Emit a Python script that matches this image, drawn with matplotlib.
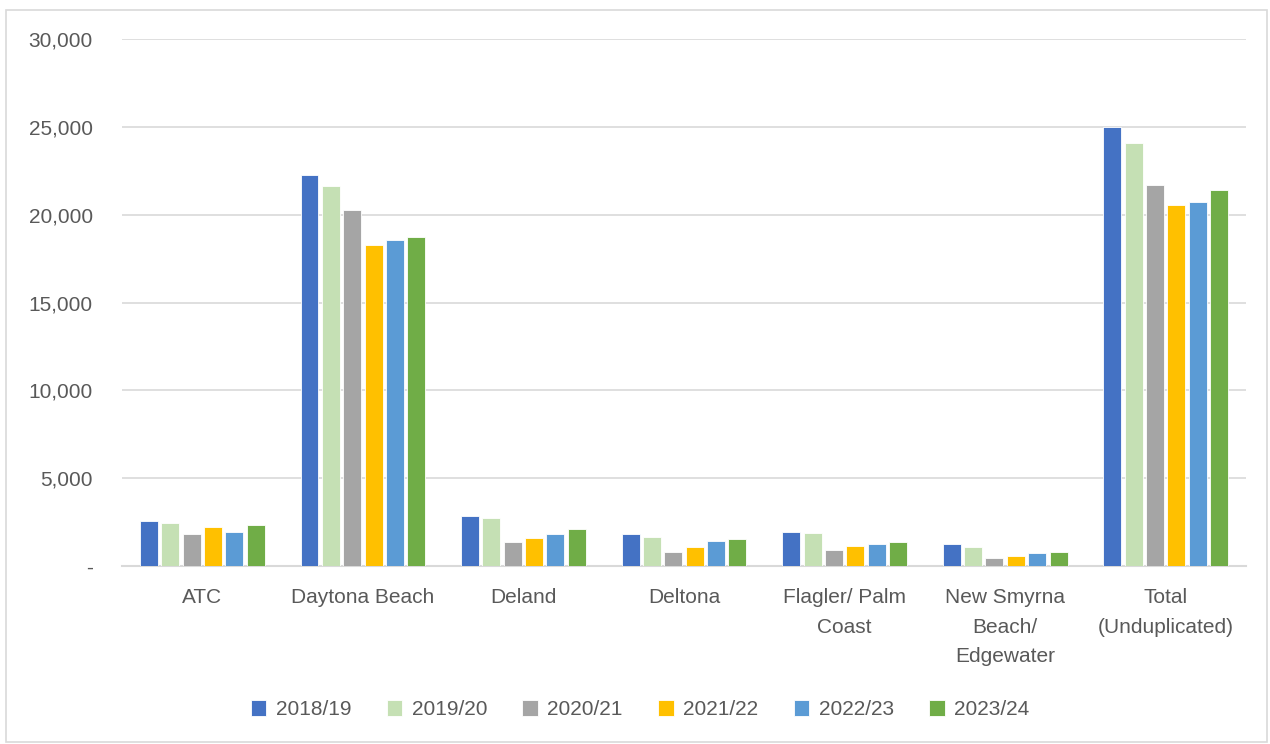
import numpy as np
import matplotlib
matplotlib.use("Agg")
import matplotlib.pyplot as plt
from matplotlib.patches import Rectangle
from matplotlib.ticker import FuncFormatter

plt.rcParams['font.family'] = ['Liberation Sans', 'DejaVu Sans']

# Data
categories = ["ATC", "Daytona Beach", "Deland", "Deltona", "Flagler/ Palm\nCoast",
              "New Smyrna\nBeach/\nEdgewater", "Total\n(Unduplicated)"]
years = ["2018/19", "2019/20", "2020/21", "2021/22", "2022/23", "2023/24"]
y2018 = [2560, 22250, 2850, 1820, 1940, 1230, 24970]
y2019 = [2450, 21650, 2710, 1650, 1860, 1100, 24070]
y2020 = [1820, 20240, 1350, 810, 930, 470, 21670]
y2021 = [2240, 18250, 1590, 1100, 1160, 590, 20550]
y2022 = [1940, 18570, 1800, 1400, 1230, 760, 20700]
y2023 = [2320, 18710, 2110, 1540, 1380, 810, 21380]
series = [y2018, y2019, y2020, y2021, y2022, y2023]
colors = ["#4472C4", "#C5E0B4", "#A5A5A5", "#FFC000", "#5B9BD5", "#70AD47"]

fig = plt.figure(figsize=(12.7, 7.44), dpi=100)
ax = fig.add_axes([0.0961, 0.2392, 0.885, 0.7084])

# outer chart border
fig.patches.append(Rectangle((0.005, 0.003), 0.993, 0.984, transform=fig.transFigure,
                             fill=False, edgecolor="#D9D9D9", linewidth=1.2))

x = np.arange(len(categories))
step = 0.133
width = 0.112
for i, (vals, col, lab) in enumerate(zip(series, colors, years)):
    ax.bar(x + (i - 2.5) * step, vals, width, color=col, label=lab,
           edgecolor="white", linewidth=0.6, zorder=3)

ax.set_xlim(-0.5, len(categories) - 0.5)
ax.set_ylim(0, 30000)
ax.set_yticks(range(0, 30001, 5000))
ax.yaxis.set_major_formatter(FuncFormatter(lambda v, p: "-" if v == 0 else f"{int(v):,}"))
ax.grid(axis="y", color="#D9D9D9", linewidth=1.2, zorder=0)
ax.set_axisbelow(True)

for s in ["top", "right", "left"]:
    ax.spines[s].set_visible(False)
ax.spines["bottom"].set_color("#D9D9D9")
ax.spines["bottom"].set_linewidth(1.5)

ax.set_xticks(x)
ax.set_xticklabels(categories, linespacing=1.7)
ax.tick_params(axis="both", length=0, labelsize=15, colors="#595959")
ax.tick_params(axis="y", pad=21)
ax.tick_params(axis="x", pad=16)

leg = fig.legend(loc="center", bbox_to_anchor=(0.504, 0.046), ncol=6, frameon=False,
                 fontsize=15, handlelength=0.75, handleheight=0.75,
                 handletextpad=0.45, columnspacing=1.7)
for t in leg.get_texts():
    t.set_color("#595959")

fig.savefig("out.png", dpi=100)
